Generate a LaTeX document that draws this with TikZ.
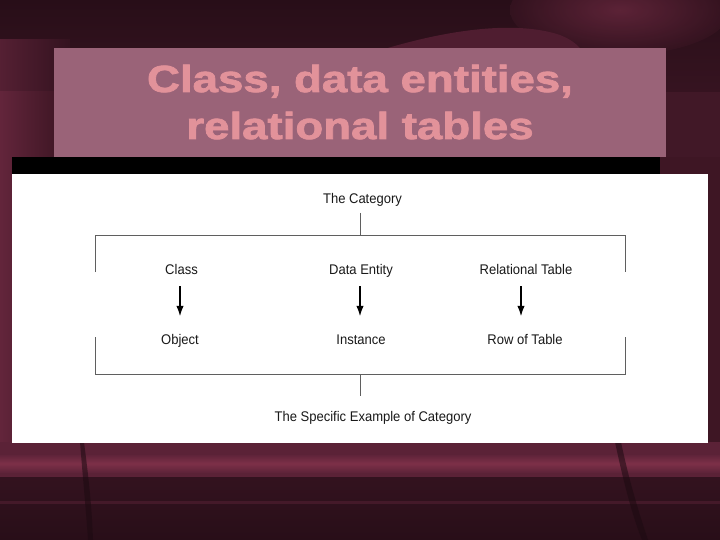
\documentclass[tikz,border=0pt]{standalone}
\usepackage{fontspec}
\setmainfont{Liberation Sans}
\newfontfamily\lblfont[FakeStretch=0.93]{Liberation Sans}
\newfontfamily\ttlfont[FakeStretch=1.21,FakeBold=2]{Liberation Sans Bold}
\usetikzlibrary{arrows.meta}
\definecolor{bgdark}{RGB}{40,14,24}
\definecolor{bgmid}{RGB}{62,22,36}
\definecolor{bglight}{RGB}{96,36,58}
\definecolor{bgstripe}{RGB}{125,48,72}
\definecolor{titlebox}{RGB}{154,99,120}
\definecolor{titletext}{RGB}{226,146,154}
\definecolor{linegray}{RGB}{95,95,95}
\begin{document}
\begin{tikzpicture}[x=1pt,y=-1pt,
  lbl/.style={font=\lblfont\fontsize{14}{16}\selectfont, text=black!90, inner sep=1pt, anchor=base, text height=10.5pt, text depth=3pt},
  ttl/.style={font=\ttlfont\fontsize{37.7}{45}\selectfont, text=titletext, anchor=base, inner sep=0pt},
  brk/.style={draw=linegray, line width=1pt},
  arr/.style={draw=black, line width=2pt, -{Latex[length=11pt,width=7.5pt]}, shorten <=8pt, shorten >=15.5pt}]
\useasboundingbox (0,0) rectangle (720,540);
% background
\fill[bgmid] (0,0) rectangle (720,540);
\shade[top color=bgdark, bottom color=bgdark!75!bglight] (0,0) rectangle (720,92);
\shade[inner color=bglight!70!bgstripe, outer color=bgdark!75!bglight, opacity=0.8] (620,10) ellipse (110 and 45);
\fill[bglight!70!bgdark] (330,68) .. controls (400,40) and (500,15) .. (560,35) .. controls (585,45) and (590,60) .. (595,92) -- (330,92) -- cycle;
\fill[bgdark!55!bglight] (0,92) rectangle (720,157);
\shade[left color=bglight!80!bgdark, right color=bgdark!80!bglight] (0,40) rectangle (70,92);
\shade[left color=bglight!90!bgstripe, right color=bgmid] (0,92) rectangle (60,442);
% bottom band
\fill[bglight!90!bgdark] (0,442) rectangle (720,477);
\shade[top color=bglight, bottom color=bglight, middle color=bgstripe] (0,455) rectangle (720,472);
\shade[top color=bgdark!80!bglight, bottom color=bgdark] (0,477) rectangle (720,540);
\fill[bglight!50!bgdark] (0,501) rectangle (720,504);
\fill[bgdark!70!black, opacity=0.55] (84,442) .. controls (89,480) and (92,510) .. (93,540) -- (88,540) .. controls (86,510) and (83,480) .. (80,442) -- cycle;
\fill[bgdark!70!black, opacity=0.55] (615,442) .. controls (623,480) and (632,515) .. (642,540) -- (648,540) .. controls (638,510) and (629,480) .. (621,442) -- cycle;
% black band under title
\fill[black] (12,157) rectangle (660,174);
% title box
\fill[titlebox] (54,48) rectangle (666,157);
\node[ttl] (title1) at (360,92) {Class, data entities,};
\node[ttl] (title2) at (360,139) {relational tables};
% white panel
\fill[white] (12,174) rectangle (708,443);
% texts
\node[lbl] (cat) at (362.5,204) {The Category};
\node[lbl] (cls) at (181.5,274) {Class};
\node[lbl] (de) at (361,274) {Data Entity};
\node[lbl] (rt) at (526,274) {Relational Table};
\node[lbl] (obj) at (180,344) {Object};
\node[lbl] (ins) at (361,344) {Instance};
\node[lbl] (row) at (525,344) {Row of Table};
\node[lbl] (spec) at (373,421) {The Specific Example of Category};
% bracket coordinates
\coordinate (tc) at (360,235);
\coordinate (tl) at (95,235);
\coordinate (tr) at (625,235);
\coordinate (tlb) at (95,272);
\coordinate (trb) at (625,272);
\coordinate (bc) at (360,374);
\coordinate (bl) at (95,374);
\coordinate (br) at (625,374);
\coordinate (blt) at (95,337);
\coordinate (brt) at (625,337);
\coordinate (catb) at (360,213);
\coordinate (specb) at (360,396);
\draw[brk] (catb) -- (tc);
\draw[brk] (tlb) -- (tl) -- (tr) -- (trb);
\draw[brk] (blt) -- (bl) -- (br) -- (brt);
\draw[brk] (bc) -- (specb);
% arrows
\draw[arr] ([xshift=-1.5pt]cls.south) -- ([xshift=0pt]obj.north);
\draw[arr] ([xshift=-1pt]de.south) -- ([xshift=-1pt]ins.north);
\draw[arr] ([xshift=-5pt]rt.south) -- ([xshift=-4pt]row.north);
\end{tikzpicture}
\end{document}
